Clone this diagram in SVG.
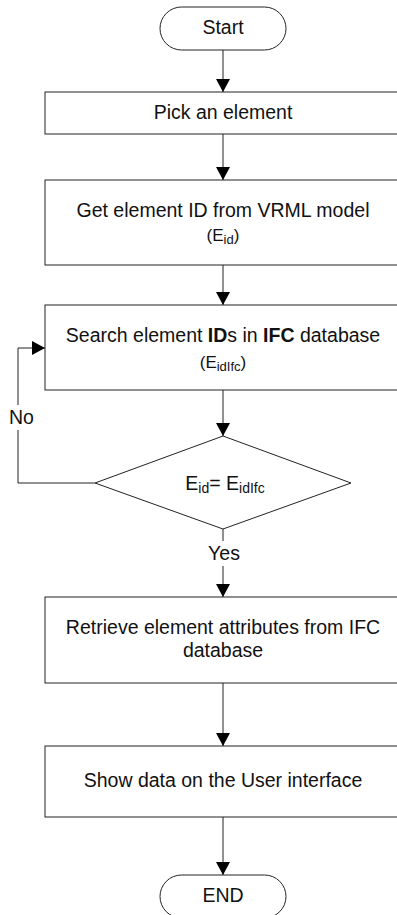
<svg xmlns="http://www.w3.org/2000/svg" width="397" height="915" viewBox="0 0 397 915">
  <style>
    .shape { fill: #ffffff; stroke: #222222; stroke-width: 1; }
    .wire { fill: none; stroke: #222222; stroke-width: 1; }
    text { font-family: "Liberation Sans", Arial, sans-serif; font-size: 19.5px; fill: #111111; text-anchor: middle; }
    .small { font-size: 17px; }
    .sub { font-size: 13px; }
    .subd { font-size: 14px; }
    .b { font-weight: bold; }
  </style>
  <defs>
    <marker id="arrow" viewBox="0 0 13 14" refX="13" refY="7" markerWidth="13" markerHeight="14" markerUnits="userSpaceOnUse" orient="auto">
      <path d="M0,0 L13,7 L0,14 Z" fill="#000000"/>
    </marker>
  </defs>

  <rect width="397" height="915" fill="#ffffff"/>

  <!-- connectors -->
  <g id="connectors">
    <path class="wire" d="M223,50 V92" marker-end="url(#arrow)"/>
    <path class="wire" d="M223,134 V180" marker-end="url(#arrow)"/>
    <path class="wire" d="M223,265 V305" marker-end="url(#arrow)"/>
    <path class="wire" d="M223,390 V436" marker-end="url(#arrow)"/>
    <path class="wire" d="M223,529 V541"/>
    <path class="wire" d="M223,566 V597" marker-end="url(#arrow)"/>
    <path class="wire" d="M223,683 V746" marker-end="url(#arrow)"/>
    <path class="wire" d="M223,817 V875" marker-end="url(#arrow)"/>
    <!-- "No" loop back to the search step -->
    <path class="wire" d="M95,483 H18 V430"/>
    <path class="wire" d="M18,405 V348 H45" marker-end="url(#arrow)"/>
    <text x="21.5" y="424">No</text>
    <text x="224" y="560">Yes</text>
  </g>

  <g id="start">
    <rect class="shape" x="160" y="7" width="126" height="43" rx="21.5" ry="21.5"/>
    <text x="223" y="34">Start</text>
  </g>

  <g id="pick">
    <rect class="shape" x="45" y="92" width="356" height="42"/>
    <text x="223" y="119">Pick an element</text>
  </g>

  <g id="get-id">
    <rect class="shape" x="45" y="180" width="356" height="85"/>
    <text x="223" y="217">Get element ID from VRML model</text>
    <text class="small" x="223" y="241">(E<tspan class="sub" dy="3">id</tspan><tspan dy="-3">)</tspan></text>
  </g>

  <g id="search">
    <rect class="shape" x="45" y="305" width="356" height="85"/>
    <text x="223" y="342">Search element <tspan class="b">ID</tspan>s in <tspan class="b">IFC</tspan> database</text>
    <text class="small" x="223" y="368">(E<tspan class="sub" dy="3">idIfc</tspan><tspan dy="-3">)</tspan></text>
  </g>

  <g id="compare">
    <path class="shape" d="M223,436 L351,483 L223,529 L95,483 Z"/>
    <text x="225" y="490">E<tspan class="subd" dy="3">id</tspan><tspan dy="-3">= E</tspan><tspan class="subd" dy="3">idIfc</tspan></text>
  </g>

  <g id="retrieve">
    <rect class="shape" x="45" y="597" width="356" height="86"/>
    <text x="223" y="634">Retrieve element attributes from IFC</text>
    <text x="223" y="657">database</text>
  </g>

  <g id="show">
    <rect class="shape" x="45" y="746" width="356" height="71"/>
    <text x="223" y="787">Show data on the User interface</text>
  </g>

  <g id="end">
    <rect class="shape" x="160" y="875" width="126" height="43" rx="21.5" ry="21.5"/>
    <text x="223" y="902">END</text>
  </g>
</svg>
